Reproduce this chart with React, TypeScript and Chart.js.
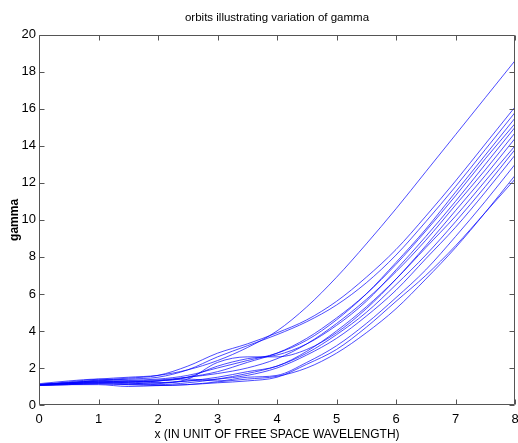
import React, { useEffect, useRef } from "react";
import { Chart, registerables } from "chart.js";

Chart.register(...registerables);

const titleText = "orbits illustrating variation of gamma";
const xAxisTitle = "x (IN UNIT OF FREE SPACE WAVELENGTH)";
const yAxisTitle = "gamma";

const xPositions = [0, 0.5, 1, 1.5, 2, 2.5, 3, 3.5, 4, 4.5, 5, 5.5, 6, 6.5, 7, 7.5, 8];

const orbit1 = [1.1, 1.25, 1.4, 1.5, 1.6, 1.9, 2.4, 3.1, 4.0, 5.3, 6.9, 8.7, 10.6, 12.6, 14.6, 16.6, 18.6];
const orbit2 = [1.1, 1.2, 1.35, 1.45, 1.6, 2.1, 2.8, 3.3, 3.9, 4.6, 5.6, 6.9, 8.4, 10.2, 12.1, 14.1, 16.1];
const orbit3 = [1.1, 1.15, 1.3, 1.4, 1.5, 1.9, 2.6, 3.2, 3.8, 4.5, 5.4, 6.6, 8.1, 9.9, 11.8, 13.8, 15.8];
const orbit4 = [1.15, 1.3, 1.4, 1.35, 1.4, 1.6, 2.0, 2.4, 2.8, 3.5, 4.6, 6.0, 7.7, 9.5, 11.5, 13.5, 15.5];
const orbit5 = [1.1, 1.2, 1.3, 1.25, 1.3, 1.5, 1.8, 2.3, 2.8, 3.6, 4.7, 6.0, 7.6, 9.4, 11.3, 13.3, 15.2];
const orbit6 = [1.1, 1.15, 1.2, 1.2, 1.3, 1.5, 2.1, 2.5, 2.7, 3.3, 4.3, 5.6, 7.3, 9.1, 11.0, 13.0, 15.0];
const orbit7 = [1.05, 1.15, 1.25, 1.3, 1.35, 1.5, 1.7, 2.0, 2.5, 3.3, 4.4, 5.7, 7.2, 8.9, 10.8, 12.7, 14.7];
const orbit8 = [1.1, 1.2, 1.3, 1.3, 1.2, 1.4, 2.3, 2.6, 2.6, 3.0, 3.9, 5.2, 6.8, 8.6, 10.5, 12.4, 14.4];
const orbit9 = [1.1, 1.15, 1.2, 1.15, 1.2, 1.3, 1.5, 1.8, 2.1, 2.9, 4.0, 5.3, 6.8, 8.5, 10.2, 12.1, 14.0];
const orbit10 = [1.1, 1.2, 1.25, 1.2, 1.1, 1.2, 1.4, 1.7, 2.1, 2.8, 3.8, 5.0, 6.5, 8.1, 9.9, 11.8, 13.8];
const orbit11 = [1.05, 1.1, 1.15, 1.1, 1.15, 1.3, 1.4, 1.6, 2.0, 2.7, 3.6, 4.8, 6.2, 7.9, 9.6, 11.5, 13.5];
const orbit12 = [1.1, 1.15, 1.2, 1.25, 1.3, 1.4, 1.3, 1.5, 1.6, 2.3, 3.2, 4.4, 5.8, 7.3, 9.1, 11.0, 13.0];
const orbit13 = [1.1, 1.1, 1.1, 1.0, 1.05, 1.1, 1.25, 1.4, 1.55, 2.0, 2.8, 3.9, 5.2, 6.8, 8.5, 10.4, 12.4];
const orbit14 = [1.05, 1.1, 1.15, 1.1, 1.05, 1.1, 1.2, 1.3, 1.5, 2.2, 3.0, 4.2, 5.6, 7.0, 8.6, 10.4, 12.2];

const orbits = [orbit1, orbit2, orbit3, orbit4, orbit5, orbit6, orbit7, orbit8, orbit9, orbit10, orbit11, orbit12, orbit13, orbit14];

const xTickValues = [0, 1, 2, 3, 4, 5, 6, 7, 8];
const yTickValues = [0, 2, 4, 6, 8, 10, 12, 14, 16, 18, 20];

const FONT = "'Liberation Sans', Arial, sans-serif";

const boxTicksPlugin = {
  id: "boxTicks",
  afterDraw(chart: any) {
    const { ctx, chartArea, scales } = chart;
    const { left, right, top, bottom } = chartArea;
    const xs = scales.x;
    const ys = scales.y;
    ctx.save();
    ctx.strokeStyle = "#555";
    ctx.lineWidth = 1;
    const L = Math.round(left) + 0.5;
    const R = Math.round(right) - 0.5;
    const T = Math.round(top) + 0.5;
    const B = Math.round(bottom) - 0.5;
    ctx.beginPath();
    ctx.rect(L, T, R - L, B - T);
    const len = 5;
    xTickValues.forEach((v) => {
      const px = Math.round(xs.getPixelForValue(v)) + 0.5;
      ctx.moveTo(px, B);
      ctx.lineTo(px, B - len);
      ctx.moveTo(px, T);
      ctx.lineTo(px, T + len);
    });
    yTickValues.forEach((v) => {
      const py = Math.round(ys.getPixelForValue(v)) + 0.5;
      ctx.moveTo(L, py);
      ctx.lineTo(L + len, py);
      ctx.moveTo(R, py);
      ctx.lineTo(R - len, py);
    });
    ctx.stroke();
    ctx.restore();
  },
};

export default function App() {
  const canvasRef = useRef<HTMLCanvasElement | null>(null);

  useEffect(() => {
    document.body.style.margin = "0";
    const canvas = canvasRef.current;
    if (!canvas) return;
    const datasets = orbits.map((orbit, i) => ({
      label: "orbit " + (i + 1),
      data: orbit.map((g, j) => ({ x: xPositions[j], y: g })),
      borderColor: "rgba(0,0,255,0.7)",
      borderWidth: 1,
      pointRadius: 0,
      fill: false,
      cubicInterpolationMode: "monotone" as const,
    }));
    const chart = new Chart(canvas, {
      type: "line",
      data: { datasets },
      options: {
        animation: false,
        responsive: false,
        devicePixelRatio: 1,
        layout: { padding: { left: 0, right: 3, top: 0, bottom: 0 } },
        plugins: {
          legend: { display: false },
          tooltip: { enabled: false },
          title: {
            display: true,
            text: titleText,
            fullSize: false,
            color: "#000",
            font: { family: FONT, size: 11.5, weight: "normal" },
            padding: { top: 11, bottom: 10 },
          },
        },
        scales: {
          x: {
            type: "linear",
            min: 0,
            max: 8,
            afterFit: (s: any) => {
              s.height = 38;
              s.paddingLeft = 0;
              s.paddingRight = 0;
            },
            afterBuildTicks: (s: any) => {
              s.ticks = xTickValues.map((v) => ({ value: v }));
            },
            grid: { display: false, drawTicks: false },
            border: { display: false },
            ticks: {
              color: "#000",
              font: { family: FONT, size: 13 },
              padding: 7,
              maxRotation: 0,
            },
            title: {
              display: true,
              text: xAxisTitle,
              color: "#000",
              font: { family: FONT, size: 12 },
              padding: { top: 1, bottom: 1 },
            },
          },
          y: {
            type: "linear",
            min: 0,
            max: 20,
            afterFit: (s: any) => {
              s.width = 39;
            },
            afterBuildTicks: (s: any) => {
              s.ticks = yTickValues.map((v) => ({ value: v }));
            },
            grid: { display: false, drawTicks: false },
            border: { display: false },
            ticks: {
              color: "#000",
              font: { family: FONT, size: 13 },
              padding: 3,
            },
            title: {
              display: true,
              text: yAxisTitle,
              color: "#000",
              font: { family: FONT, size: 12, weight: "bold" },
              padding: { top: 7, bottom: 7 },
            },
          },
        },
      },
      plugins: [boxTicksPlugin],
    });
    return () => chart.destroy();
  }, []);

  return (
    <div style={{ position: "fixed", left: 0, top: 0, width: 518, height: 443, background: "#fff" }}>
      <canvas ref={canvasRef} width={518} height={443} style={{ width: 518, height: 443 }} />
    </div>
  );
}
